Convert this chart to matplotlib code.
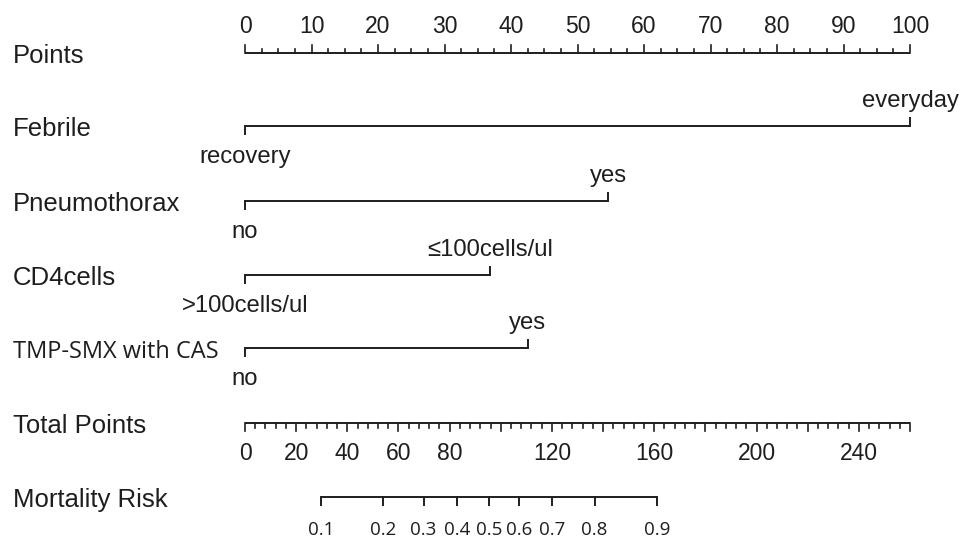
import matplotlib
matplotlib.use("Agg")
import matplotlib.pyplot as plt

# ---------------- data ----------------
point_ticks = [0, 10, 20, 30, 40, 50, 60, 70, 80, 90, 100]
point_max = 100

febrile_levels = ["recovery", "everyday"]
febrile_points = [0, 100]

pneumo_levels = ["no", "yes"]
pneumo_points = [0, 54.6]

cd4_levels = [">100cells/ul", "\u2264100cells/ul"]
cd4_points = [0, 36.9]

tmp_levels = ["no", "yes"]
tmp_points = [0, 42.5]

total_max = 260
total_major = [0, 20, 40, 60, 80, 100, 120, 140, 160, 180, 200, 220, 240, 260]
total_labels = [0, 20, 40, 60, 80, 120, 160, 200, 240]

risk_labels = ["0.1", "0.2", "0.3", "0.4", "0.5", "0.6", "0.7", "0.8", "0.9"]
risk_total_points = [29.6, 53.9, 69.8, 82.8, 95.5, 107.2, 120.2, 136.7, 161.1]

row_names = ["Points", "Febrile", "Pneumothorax", "CD4cells", "TMP-SMX with CAS",
             "Total Points", "Mortality Risk"]

# ---------------- layout ----------------
W, H = 960, 539
X0, X1 = 245, 910           # pixel positions of 0 and max points
ppx = (X1 - X0) / point_max  # pixels per point
row_y = [53, 126, 200.7, 275, 348.3, 423, 497]

SANS = ["Liberation Sans", "DejaVu Sans"]
ALT = ["Open Sans", "DejaVu Sans"]
COL = "#1e1e1e"
LW = 1.4
FS_TICK = 16.5
FS_CAT = 17.2

fig = plt.figure(figsize=(W / 100, H / 100), dpi=100)
ax = fig.add_axes([0, 0, 1, 1])
ax.set_xlim(-X0 / ppx, (W - X0) / ppx)
ax.set_ylim(H, 0)
ax.axis("off")

def total_to_points(v):
    return v * point_max / total_max

# row labels
for i, name in enumerate(row_names):
    alt = name.startswith("TMP")
    ax.text(-X0 / ppx + 13 / ppx, row_y[i] + 10, name,
            fontsize=17 if alt else 18.5, family=ALT if alt else SANS,
            color=COL, ha="left", va="baseline")

# Points axis
y = row_y[0]
ax.plot([0, point_max], [y, y], color=COL, lw=LW, solid_capstyle="butt")
minor = [t * 2.5 for t in range(0, 41)]
for m in minor:
    L = 8 if m in point_ticks else 4.5
    ax.plot([m, m], [y, y - L], color=COL, lw=LW * 0.85)
for t in point_ticks:
    ax.text(t, y - 20, str(t), fontsize=FS_TICK, family=SANS, color=COL,
            ha="center", va="baseline")

# categorical rows
def cat_row(yv, pts, levels):
    ax.plot([pts[0], pts[1]], [yv, yv], color=COL, lw=LW, solid_capstyle="butt")
    ax.plot([pts[0], pts[0]], [yv, yv + 8], color=COL, lw=LW)
    ax.plot([pts[1], pts[1]], [yv, yv - 8], color=COL, lw=LW)
    ax.text(pts[0], yv + 37, levels[0], fontsize=FS_CAT, family=SANS, color=COL,
            ha="center", va="baseline")
    ax.text(pts[1], yv - 19, levels[1], fontsize=FS_CAT, family=SANS, color=COL,
            ha="center", va="baseline")

cat_row(row_y[1], febrile_points, febrile_levels)
cat_row(row_y[2], pneumo_points, pneumo_levels)
cat_row(row_y[3], cd4_points, cd4_levels)
cat_row(row_y[4], tmp_points, tmp_levels)

# Total points axis
y = row_y[5]
ax.plot([0, total_to_points(total_max)], [y, y], color=COL, lw=LW, solid_capstyle="butt")
for m in range(0, total_max + 1, 4):
    L = 8 if m in total_major else 4.5
    ax.plot([total_to_points(m)] * 2, [y, y + L], color=COL, lw=LW * 0.85)
for t in total_labels:
    ax.text(total_to_points(t), y + 37, str(t), fontsize=FS_TICK, family=SANS, color=COL,
            ha="center", va="baseline")

# Mortality risk axis
y = row_y[6]
rp = [total_to_points(v) for v in risk_total_points]
ax.plot([rp[0], rp[-1]], [y, y], color=COL, lw=LW, solid_capstyle="butt")
for p, lab in zip(rp, risk_labels):
    ax.plot([p, p], [y, y + 8], color=COL, lw=LW)
    ax.text(p, y + 38, lab, fontsize=13.5, family=ALT, color=COL,
            ha="center", va="baseline")

fig.savefig("out.png", dpi=100, facecolor="white")
